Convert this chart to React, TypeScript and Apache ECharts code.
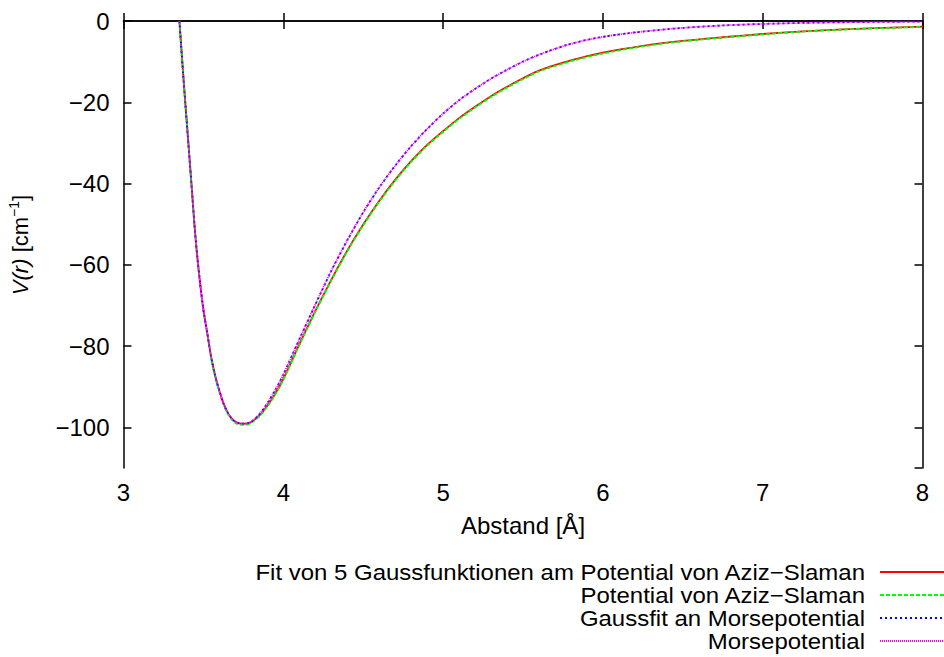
import React, { useEffect, useRef } from "react";
import * as echarts from "echarts";

// Abstand r [Å]
const rAziz = [3.35, 3.375, 3.4, 3.425, 3.45, 3.475, 3.5, 3.525, 3.55, 3.575, 3.6, 3.625, 3.65, 3.675, 3.7, 3.725, 3.75, 3.775, 3.8, 3.85, 3.9, 3.95, 4.0, 4.1, 4.2, 4.3, 4.4, 4.5, 4.6, 4.7, 4.8, 4.9, 5.0, 5.1, 5.2, 5.3, 5.4, 5.5, 5.6, 5.8, 6.0, 6.25, 6.5, 6.75, 7.0, 7.25, 7.5, 7.75, 8.0];
// Fit von 5 Gaussfunktionen am Potential von Aziz-Slaman
const vFitGauss5 = [0, -14, -27, -40, -53, -63, -71, -77, -83, -87.5, -91, -94, -96.2, -97.7, -98.6, -99, -99.1, -99, -98.7, -97.1, -94.7, -91.7, -88.1, -79.6, -71.4, -63.7, -56.5, -50.1, -44.3, -39.1, -34.5, -30.5, -27.1, -23.9, -21.1, -18.5, -16.2, -14.1, -12.2, -9.7, -7.8, -6.1, -4.9, -4.0, -3.2, -2.55, -2.05, -1.7, -1.4];
// Potential von Aziz-Slaman
const vAzizSlaman = [0, -14, -27, -40, -53, -63, -71, -77.2, -83.2, -87.8, -91.3, -94.3, -96.5, -98, -98.9, -99.3, -99.4, -99.3, -98.9, -97.3, -94.9, -91.9, -88.3, -79.8, -71.6, -63.9, -56.7, -50.3, -44.5, -39.3, -34.7, -30.7, -27.3, -24.1, -21.3, -18.7, -16.4, -14.3, -12.4, -9.9, -8.0, -6.25, -5.0, -4.1, -3.3, -2.6, -2.1, -1.75, -1.45];

const rMorse = [3.35, 3.375, 3.4, 3.425, 3.45, 3.475, 3.5, 3.525, 3.55, 3.575, 3.6, 3.625, 3.65, 3.675, 3.7, 3.725, 3.75, 3.775, 3.8, 3.85, 3.9, 3.95, 4.0, 4.1, 4.2, 4.3, 4.4, 4.5, 4.6, 4.7, 4.8, 4.9, 5.0, 5.1, 5.2, 5.3, 5.4, 5.5, 5.6, 5.8, 6.0, 6.25, 6.5, 6.75, 7.0, 7.25, 7.5, 7.75, 8.0];
// Gaussfit an Morsepotential
const vGaussMorse = [0, -14, -27, -40, -53, -63, -71, -77, -83, -87.5, -91, -94, -96.2, -97.7, -98.6, -99, -99.1, -99, -98.6, -96.8, -94.1, -90.8, -87.0, -78.4, -69.8, -61.5, -54.0, -47.1, -41.0, -35.6, -30.8, -26.6, -22.8, -19.5, -16.7, -14.2, -12.0, -10.0, -8.3, -5.6, -3.9, -2.6, -1.7, -1.1, -0.72, -0.47, -0.31, -0.21, -0.15];
// Morsepotential
const vMorse = [0, -14, -27, -40, -53, -63, -71, -77, -83, -87.5, -91, -94, -96.2, -97.7, -98.6, -99, -99.1, -99, -98.6, -96.8, -94.1, -90.8, -87.0, -78.4, -69.8, -61.5, -54.0, -47.1, -41.0, -35.6, -30.8, -26.6, -22.8, -19.5, -16.7, -14.2, -12.0, -10.0, -8.3, -5.6, -3.9, -2.6, -1.7, -1.1, -0.72, -0.47, -0.31, -0.21, -0.15];

const legendNames = [
  "Fit von 5 Gaussfunktionen am Potential von Aziz\u2212Slaman",
  "Potential von Aziz\u2212Slaman",
  "Gaussfit an Morsepotential",
  "Morsepotential",
];
const colors = ["#ff0000", "#00ff00", "#0000ff", "#ff00ff"];
const dashes: (number[] | null)[] = [null, [4, 2], [2, 3], [1, 1]];

const FONT = "'Liberation Sans', Arial, Helvetica, sans-serif";
const FS = 24;

function zip(xs: number[], ys: number[]) {
  return xs.map((x, i) => [x, ys[i]]);
}

const minusFmt = (v: number) => (v < 0 ? "\u2212" + Math.abs(v) : String(v));

export default function App() {
  const ref = useRef<HTMLDivElement>(null);
  useEffect(() => {
    if (!ref.current) return;
    const chart = echarts.init(ref.current, undefined, { renderer: "svg" });
    const seriesData = [
      zip(rAziz, vFitGauss5),
      zip(rAziz, vAzizSlaman),
      zip(rMorse, vGaussMorse),
      zip(rMorse, vMorse),
    ];
    const axisLine = { show: true, lineStyle: { color: "#000", width: 1.5 } };
    const axisTick = { show: true, inside: true, length: 8, lineStyle: { color: "#000", width: 1.5 } };
    const legendY0 = 572;
    const legendDy = 23;
    const graphic: any[] = [];
    legendNames.forEach((name, i) => {
      const y = legendY0 + i * legendDy;
      graphic.push({
        type: "text",
        x: 865,
        y,
        scaleX: 1.09,
        style: {
          text: name,
          fill: "#000",
          fontSize: 22,
          fontFamily: FONT,
          align: "right",
          verticalAlign: "middle",
        },
      });
      graphic.push({
        type: "line",
        shape: { x1: 880, y1: y, x2: 944, y2: y },
        style: {
          stroke: colors[i],
          lineWidth: 1.8,
          lineDash: dashes[i] || undefined,
        },
      });
    });
    graphic.push({
      type: "text",
      x: 20,
      y: 245,
      rotation: Math.PI / 2,
      style: {
        text: "{it|V(r)}{n| [cm}{sup|\u22121}{n|]}",
        align: "center",
        verticalAlign: "middle",
        rich: {
          it: { fontStyle: "italic", fontSize: 22, fontFamily: FONT, fill: "#000", lineHeight: 26 },
          n: { fontSize: 22, fontFamily: FONT, fill: "#000", lineHeight: 26 },
          sup: { fontSize: 14, fontFamily: FONT, fill: "#000", verticalAlign: "top", lineHeight: 26 },
        },
      },
    });
    graphic.push({
      type: "text",
      x: 523,
      y: 525,
      style: {
        text: "Abstand [\u00c5]",
        fontSize: FS,
        fontFamily: FONT,
        fill: "#000",
        align: "center",
        verticalAlign: "middle",
      },
    });

    chart.setOption({
      animation: false,
      backgroundColor: "#fff",
      grid: { left: 123.5, top: 21, width: 799, height: 447, containLabel: false, outerBoundsMode: "none" },
      xAxis: [
        {
          type: "value",
          min: 3,
          max: 8,
          interval: 1,
          position: "bottom",
          axisLine,
          axisTick,
          splitLine: { show: false },
          axisLabel: { color: "#000", fontSize: FS, fontFamily: FONT, margin: 12 },
        },
        {
          type: "value",
          min: 3,
          max: 8,
          interval: 1,
          position: "top",
          axisLine,
          axisTick,
          splitLine: { show: false },
          axisLabel: { show: false },
        },
      ],
      yAxis: [
        {
          type: "value",
          min: -110,
          max: 0,
          splitNumber: 5,
          position: "left",
          axisLine,
          axisTick,
          splitLine: { show: false },
          axisLabel: {
            color: "#000",
            fontSize: FS,
            fontFamily: FONT,
            margin: 14,
            showMinLabel: false,
            formatter: (v: number) => (v === -110 ? "" : minusFmt(v)),
          },
        },
        {
          type: "value",
          min: -110,
          max: 0,
          splitNumber: 5,
          position: "right",
          axisLine,
          axisTick,
          splitLine: { show: false },
          axisLabel: { show: false },
        },
      ],
      series: seriesData.map((d, i) => ({
        type: "line",
        name: legendNames[i],
        data: d,
        xAxisIndex: 0,
        yAxisIndex: 0,
        showSymbol: false,
        symbol: "none",
        smooth: 0.3,
        clip: true,
        lineStyle: { color: colors[i], width: 1.8, type: dashes[i] || "solid" },
        z: 2 + i,
      })),
      graphic,
    });
    return () => chart.dispose();
  }, []);
  return (
    <div
      ref={ref}
      style={{ position: "fixed", left: 0, top: 0, width: 944, height: 657, background: "#fff" }}
    />
  );
}
